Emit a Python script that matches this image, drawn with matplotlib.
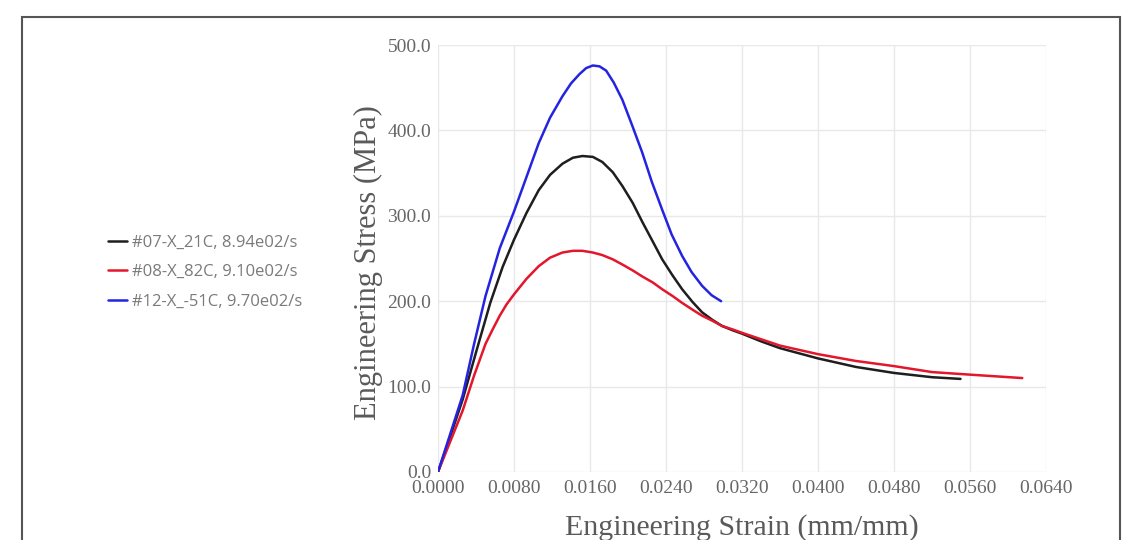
import matplotlib.pyplot as plt
from matplotlib.patches import Rectangle

# Stress-strain curves (strain mm/mm, stress MPa)
strain_07 = [0, 0.0013, 0.0026, 0.0040, 0.0055, 0.0068, 0.0080, 0.0093, 0.0106, 0.0118,
             0.0131, 0.0142, 0.0152, 0.0163, 0.0173, 0.0184, 0.0194, 0.0205, 0.0215,
             0.0226, 0.0236, 0.0247, 0.0257, 0.0268, 0.0278, 0.0289, 0.0299, 0.0310,
             0.032, 0.034, 0.036, 0.038, 0.040, 0.044, 0.048, 0.052, 0.055]
stress_07 = [0, 42, 85, 140, 198, 240, 272, 303, 330, 348,
             361, 368, 370, 369, 363, 351, 335, 315, 293,
             270, 249, 230, 214, 199, 187, 178, 171, 166,
             162, 153, 145, 139, 133, 123, 116, 111, 109]

strain_08 = [0, 0.0013, 0.0026, 0.0038, 0.0050, 0.0058, 0.0065, 0.0072, 0.0080, 0.0093,
             0.0106, 0.0118, 0.0131, 0.0142, 0.0152, 0.0163, 0.0173, 0.0184, 0.0194,
             0.0205, 0.0215, 0.0226, 0.0236, 0.0247, 0.0257, 0.0268, 0.0278, 0.0289,
             0.0299, 0.0310, 0.032, 0.036, 0.040, 0.044, 0.048, 0.052, 0.056, 0.0615]
stress_08 = [0, 36, 72, 113, 150, 168, 183, 196, 208, 226,
             241, 251, 257, 259, 259, 257, 254, 249, 243,
             236, 229, 222, 214, 206, 198, 190, 183, 177,
             171, 167, 163, 148, 138, 130, 124, 117, 114, 110]

strain_12 = [0, 0.0013, 0.0026, 0.0038, 0.0050, 0.0065, 0.0080, 0.0093, 0.0106, 0.0118,
             0.0131, 0.0140, 0.0149, 0.0156, 0.0163, 0.0170, 0.0177, 0.0185, 0.0194,
             0.0204, 0.0215, 0.0225, 0.0236, 0.0246, 0.0257, 0.0267, 0.0278, 0.0288,
             0.0298]
stress_12 = [0, 45, 90, 150, 206, 262, 305, 345, 385, 415,
             440, 455, 466, 473, 476, 475, 470, 456, 436,
             407, 374, 340, 307, 278, 253, 234, 218, 207,
             200]

labels = ["#07-X_21C, 8.94e02/s", "#08-X_82C, 9.10e02/s", "#12-X_-51C, 9.70e02/s"]
colors = ["#1e1e1e", "#e3162c", "#2424e0"]

x_ticks = [0.0, 0.008, 0.016, 0.024, 0.032, 0.040, 0.048, 0.056, 0.064]
y_ticks = [0, 100, 200, 300, 400, 500]

fig = plt.figure(figsize=(11.42, 5.4), dpi=100)
ax = fig.add_axes([438 / 1142, 1 - 472 / 540, 608 / 1142, 427 / 540])

curves = [(strain_07, stress_07), (strain_08, stress_08), (strain_12, stress_12)]
for (x, y), lab, c in zip(curves, labels, colors):
    ax.plot(x, y, color=c, lw=1.8, label=lab, solid_capstyle='round',
            solid_joinstyle='round')

ax.set_xlim(0, 0.064)
ax.set_ylim(0, 500)
ax.set_xticks(x_ticks)
ax.set_yticks(y_ticks)
ax.set_xticklabels([f"{v:.4f}" for v in x_ticks])
ax.set_yticklabels([f"{v:.1f}" for v in y_ticks])
ax.grid(True, color="#e8e8e8", lw=1)
ax.set_axisbelow(True)
for s in ax.spines.values():
    s.set_visible(False)
ax.tick_params(length=0, labelsize=14, labelcolor="#666666")
ax.tick_params(axis='x', pad=6)
ax.tick_params(axis='y', pad=5)
for t in ax.get_xticklabels() + ax.get_yticklabels():
    t.set_family("Liberation Serif")

ax.set_xlabel("Engineering Strain (mm/mm)", family="Liberation Serif",
              fontsize=21.5, color="#5a5a5a")
ax.set_ylabel("Engineering Stress (MPa)", family="Liberation Serif",
              fontsize=22, color="#5a5a5a")
ax.xaxis.set_label_coords(0.5, -0.098)
ax.yaxis.set_label_coords(-0.091, 0.49)

leg = fig.legend(loc="center left", bbox_to_anchor=(0.0814, 0.496), frameon=False,
                 prop={"family": "Open Sans", "size": 12}, handlelength=1.15,
                 handletextpad=0.3, labelspacing=0.8)
for t in leg.get_texts():
    t.set_color("#7a7a7a")

# outer frame around the chart
fig.patches.append(Rectangle((22 / 1142, -0.02), 1098 / 1142, 1.02 - 17 / 540,
                             transform=fig.transFigure, fill=False,
                             edgecolor="#555555", lw=1.5))

plt.savefig("out.png")
plt.close()
